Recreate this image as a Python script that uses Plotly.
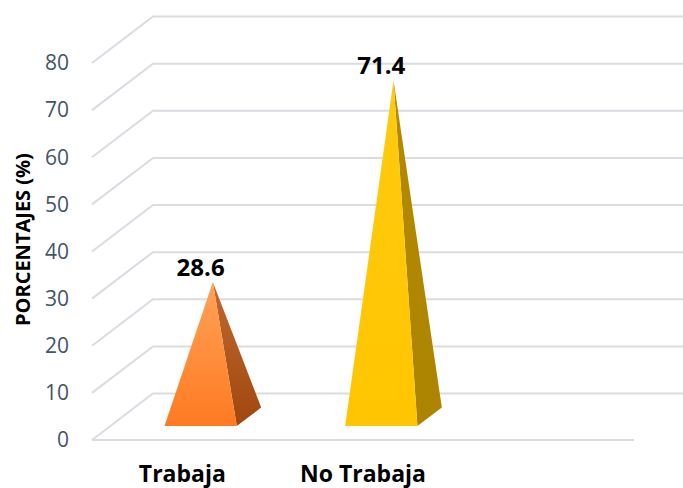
import plotly.graph_objects as go

# ---- data ----
categories = ["Trabaja", "No Trabaja"]
values = [28.6, 71.4]
y_ticks = [0, 10, 20, 30, 40, 50, 60, 70, 80]
n_slots = 3  # Excel-like category slots (third slot empty)

# ---- style ----
front_grad = [["#FF7A22", "#FFA257"], ["#FFC500", "#FFCA10"]]
side_grad = [["#A0470E", "#BF6A30"], ["#AD8400", "#B38A00"]]
grid_color = "#D9DCE1"
tick_color = "#44546A"
FONT = "Open Sans"

# pixel scale used to define 3D depth offset in data units
PX_X = 542 / n_slots
PX_Y = 377 / 80
DX = 61 / PX_X
DY = 46.5 / PX_Y

fig = go.Figure()

# gridlines: side wall diagonals + back wall horizontals
for v in y_ticks:
    xs = [-0.5, -0.5 + DX, n_slots - 0.5 + DX]
    ys = [v, v + DY, v + DY]
    if v == 0:
        xs = [n_slots - 0.5] + xs
        ys = [0] + ys
    fig.add_trace(go.Scatter(x=xs, y=ys, mode="lines",
                             line=dict(color=grid_color, width=2),
                             hoverinfo="skip", showlegend=False))

f0, f1, hw = 0.3, 0.7, 0.2
for i, (cat, v) in enumerate(zip(categories, values)):
    fl = (i - hw + f0 * DX, f0 * DY)
    fr = (i + hw + f0 * DX, f0 * DY)
    br = (i + hw + f1 * DX, f1 * DY)
    apex = (i + 0.5 * DX, v + 0.5 * DY)
    # side face
    fig.add_trace(go.Scatter(
        x=[fr[0], br[0], apex[0], fr[0]], y=[fr[1], br[1], apex[1], fr[1]],
        mode="lines", fill="toself", line=dict(width=0, color=side_grad[i][0]),
        fillgradient=dict(type="vertical", colorscale=[[0, side_grad[i][0]], [1, side_grad[i][1]]]),
        hoverinfo="skip", showlegend=False))
    # front face
    fig.add_trace(go.Scatter(
        x=[fl[0], fr[0], apex[0], fl[0]], y=[fl[1], fr[1], apex[1], fl[1]],
        mode="lines", fill="toself", line=dict(width=0, color=front_grad[i][0]),
        fillgradient=dict(type="vertical", colorscale=[[0, front_grad[i][0]], [1, front_grad[i][1]]]),
        hoverinfo="skip", showlegend=False))

# data labels
fig.add_trace(go.Scatter(
    x=[i + f0 * DX for i in range(len(values))],
    y=[v + 0.5 * DY for v in values],
    mode="text", text=[f"{v:.1f}" for v in values], textposition="top center",
    textfont=dict(family=FONT, size=24, color="black", weight="bold"),
    hoverinfo="skip", showlegend=False, cliponaxis=False))

L, T, B = 88, 5, 43
plot_w = 683 - L
plot_h = 488 - T - B
x0 = -0.5 - 4 / PX_X
y0 = -5 / PX_Y
fig.update_layout(
    width=683, height=488,
    margin=dict(l=L, r=0, t=T, b=B),
    paper_bgcolor="white", plot_bgcolor="white",
    showlegend=False,
    xaxis=dict(range=[x0, x0 + plot_w / PX_X], tickvals=list(range(len(categories))),
               ticktext=categories, showgrid=False, zeroline=False, showline=False,
               ticks="", ticklabelstandoff=13,
               tickfont=dict(family=FONT, size=23, color="black", weight="bold")),
    yaxis=dict(range=[y0, y0 + plot_h / PX_Y], tickvals=y_ticks,
               showgrid=False, zeroline=False, showline=False, ticks="",
               ticklabelstandoff=18,
               tickfont=dict(family=FONT, size=21, color=tick_color)),
    annotations=[dict(text="PORCENTAJES (%)", textangle=-90, xref="paper", yref="paper",
                      x=(22 - L) / plot_w, y=(488 - B - 240) / plot_h,
                      xanchor="center", yanchor="middle", showarrow=False,
                      font=dict(family=FONT, size=20, color="black", weight="bold"))],
)

fig.write_html("out.html")
